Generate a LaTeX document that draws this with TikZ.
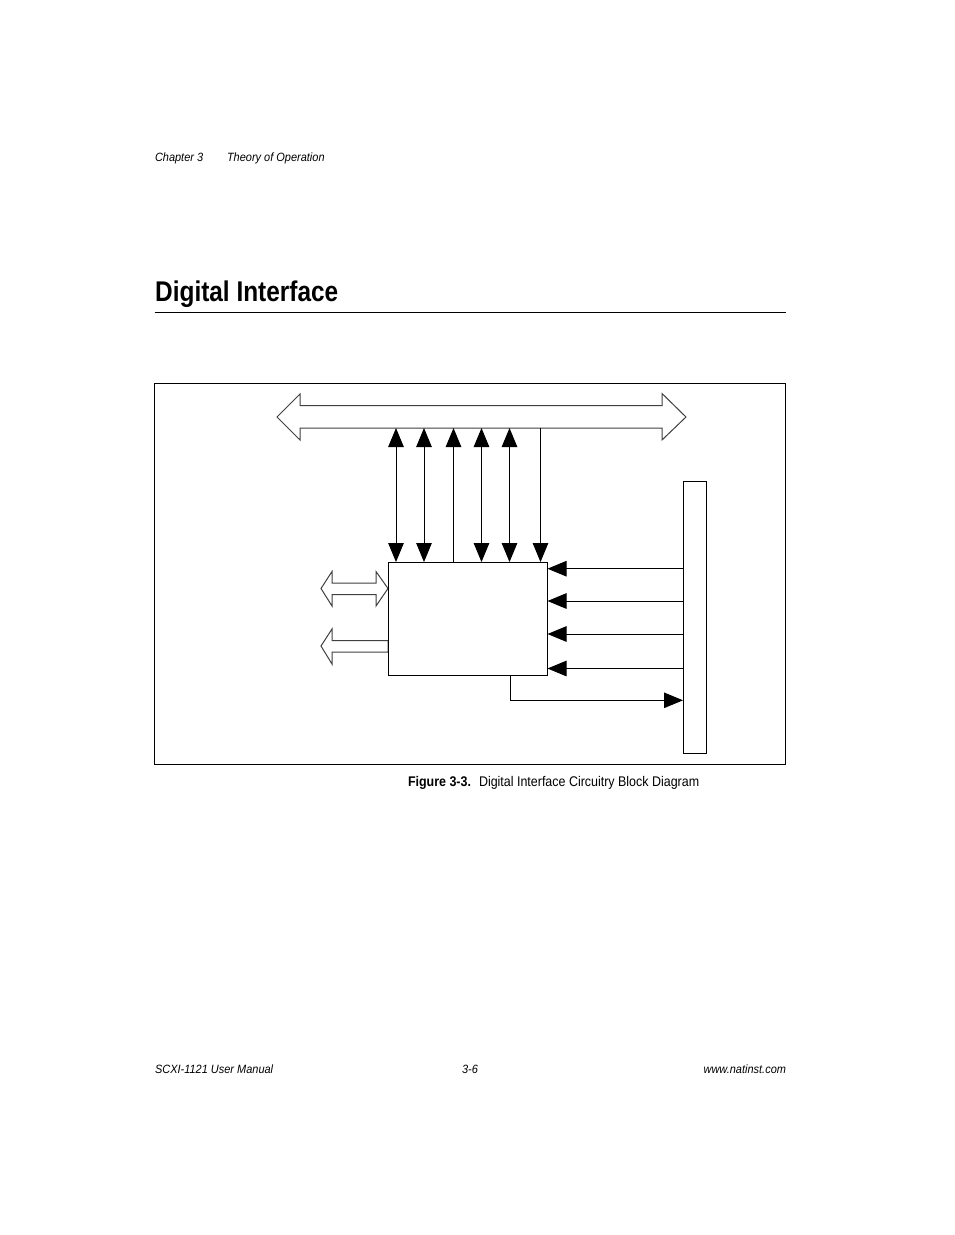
\documentclass[tikz,border=0pt]{standalone}
\usepackage{fontspec}
\setmainfont{Liberation Sans}
\newfontfamily\nar[FakeStretch=0.915]{Liberation Sans}
\newfontfamily\narc[FakeStretch=0.89]{Liberation Sans}
\newfontfamily\narf[FakeStretch=0.89]{Liberation Sans}
\newfontfamily\narb[FakeStretch=0.856]{Liberation Sans}
\usetikzlibrary{arrows.meta}
\tikzset{
  line/.style={draw=black,line width=1pt},
  solidtip/.style={line,-{Triangle[length=19pt,width=15.5pt]}},
  bothtip/.style={line,{Triangle[length=19pt,width=15.5pt]}-{Triangle[length=19pt,width=15.5pt]}},
  backtip/.style={line,{Triangle[length=19pt,width=15.5pt]}-},
  block/.style={line,fill=white,inner sep=0pt,outer sep=0pt},
  hollow/.style={draw=black!75,line width=1pt,fill=white,line join=miter},
  smalltext/.style={anchor=base west,inner sep=0pt,outer sep=0pt,font=\nar\fontsize{12}{14}\selectfont\itshape},
  captext/.style={anchor=base west,inner sep=0pt,outer sep=0pt,font=\narc\fontsize{14}{16}\selectfont},
}
\begin{document}
\begin{tikzpicture}[x=1pt,y=-1pt]
\useasboundingbox (0,0) rectangle (954,1235);
\fill[white] (0,0) rectangle (954,1235);
% page text
\node[smalltext] (chap) at (155,161.5) {Chapter 3};
\node[smalltext] (theo) at (227,161.5) {Theory of Operation};
\node[anchor=base west,inner sep=0pt,font=\narb\fontsize{28.5}{32}\selectfont\bfseries] (title) at (155,301) {Digital Interface};
\coordinate (ruleL) at (154.5,312.5);
\coordinate (ruleR) at (786,312.5);
\draw[line] (ruleL) -- (ruleR);
% frame
\node[block,fill=none,minimum width=631pt,minimum height=381pt] (frame) at (470,574) {};
% wide bus
\draw[hollow] (277,417) -- (300,394) -- (300,405.5) -- (662,405.5) -- (662,393.5) -- (686,417)
  -- (662,440) -- (662,428) -- (300,428) -- (300,440) -- cycle;
% small buses
\draw[hollow] (321,588.5) -- (332,571.5) -- (332,583) -- (376,583) -- (376,571.5) -- (388,588.5)
  -- (376,606) -- (376,594.5) -- (332,594.5) -- (332,606) -- cycle;
\draw[hollow] (321,646) -- (332,629) -- (332,640.7) -- (388,640.7) -- (388,652) -- (332,652) -- (332,664) -- cycle;
% blocks
\node[block,minimum width=159pt,minimum height=113.5pt] (ctl) at (468,618.8) {};
\node[block,minimum width=22.5pt,minimum height=272pt] (bar) at (695,617) {};
% bus attachment points
\coordinate (t1) at (396,428);
\coordinate (t2) at (424,428);
\coordinate (t3) at (453.5,428);
\coordinate (t4) at (481.5,428);
\coordinate (t5) at (509.5,428);
\coordinate (t6) at (540.5,428);
\coordinate (r1) at (683.8,568.7);
\coordinate (r2) at (683.8,601);
\coordinate (r3) at (683.8,634);
\coordinate (r4) at (683.8,668.5);
\coordinate (o1) at (510.5,675.5);
\coordinate (o2) at (683,700.3);
% connectors
\draw[bothtip] (t1) -- (t1 |- ctl.north);
\draw[bothtip] (t2) -- (t2 |- ctl.north);
\draw[backtip] (t3) -- (t3 |- ctl.north);
\draw[bothtip] (t4) -- (t4 |- ctl.north);
\draw[bothtip] (t5) -- (t5 |- ctl.north);
\draw[solidtip] (t6) -- (t6 |- ctl.north);
\draw[solidtip] (r1) -- (r1 -| ctl.east);
\draw[solidtip] (r2) -- (r2 -| ctl.east);
\draw[solidtip] (r3) -- (r3 -| ctl.east);
\draw[solidtip] (r4) -- (r4 -| ctl.east);
\draw[solidtip] (o1) |- (o2);
% caption and footer
\node[captext,font=\narf\fontsize{14}{16}\selectfont\bfseries] (figno) at (408,786.5) {Figure 3-3.};
\node[captext] (figcap) at (479,786.5) {Digital Interface Circuitry Block Diagram};
\node[smalltext] (foot1) at (155,1073) {SCXI-1121 User Manual};
\node[smalltext] (foot2) at (462,1073) {3-6};
\node[smalltext,anchor=base east] (foot3) at (786,1073) {www.natinst.com};
\end{tikzpicture}
\end{document}
